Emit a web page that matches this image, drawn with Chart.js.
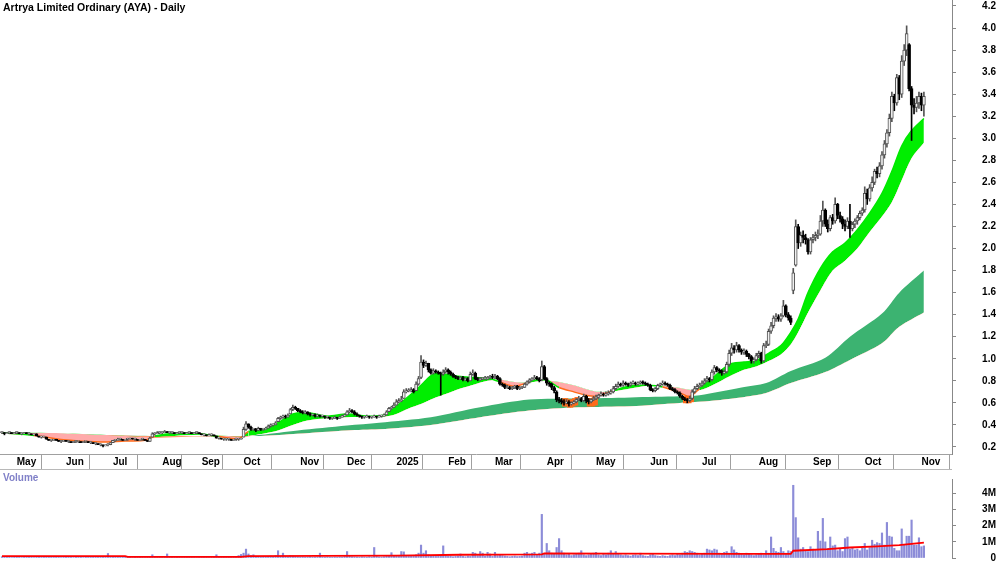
<!DOCTYPE html>
<html><head><meta charset="utf-8">
<script src="https://cdn.jsdelivr.net/npm/chart.js@4.4.1/dist/chart.umd.min.js"></script>
<style>
html,body{margin:0;padding:0;background:#fff;}
#wrap{position:relative;width:1000px;height:562px;overflow:hidden;background:#fff;}
#main{position:absolute;left:0;top:-10px;width:1000px;height:480px;}
#vol{position:absolute;left:0;top:470px;width:1000px;height:100px;}
#sep{position:absolute;left:0;top:469px;width:952px;height:1px;background:#b8b8b8;}
.t{position:absolute;font-family:'Liberation Sans',Arial,sans-serif;font-weight:bold;white-space:nowrap;}
</style></head>
<body><div id="wrap">
<div id="main"><canvas id="c1" width="1000" height="480"></canvas></div>
<div id="vol"><canvas id="c2" width="1000" height="100"></canvas></div>
<div id="sep"></div>
<div class="t" style="left:3px;top:1px;color:#000;font-size:10.5px;line-height:12px">Artrya Limited Ordinary (AYA) - Daily</div>
<div class="t" style="left:3px;top:472px;color:#8080c8;font-size:10px;line-height:12px">Volume</div>
</div>
<script>
// ---- price data (one entry per trading bar) ----
const C = [
0.33,0.32,0.33,0.33,0.32,0.33,0.33,0.32,0.32,0.33,
0.32,0.32,0.31,0.32,0.30,0.29,0.29,0.30,0.27,0.26,
0.26,0.27,0.26,0.25,0.25,0.26,0.25,0.25,0.24,0.25,
0.25,0.25,0.24,0.25,0.25,0.24,0.24,0.23,0.23,0.22,
0.22,0.21,0.22,0.22,0.24,0.26,0.26,0.27,0.27,0.26,
0.27,0.27,0.28,0.27,0.27,0.26,0.27,0.27,0.26,0.25,
0.28,0.32,0.32,0.33,0.33,0.33,0.34,0.33,0.33,0.33,
0.32,0.33,0.33,0.33,0.32,0.33,0.33,0.32,0.33,0.33,
0.32,0.31,0.31,0.30,0.31,0.31,0.30,0.28,0.28,0.27,
0.27,0.27,0.27,0.26,0.27,0.27,0.27,0.28,0.36,0.41,
0.38,0.36,0.36,0.35,0.37,0.36,0.36,0.37,0.39,0.40,
0.40,0.42,0.46,0.47,0.48,0.47,0.49,0.54,0.56,0.55,
0.53,0.52,0.51,0.52,0.50,0.49,0.49,0.48,0.49,0.48,
0.48,0.47,0.47,0.46,0.46,0.47,0.46,0.47,0.48,0.49,
0.52,0.53,0.52,0.50,0.49,0.48,0.47,0.47,0.48,0.47,
0.47,0.48,0.47,0.48,0.48,0.49,0.52,0.55,0.56,0.58,
0.61,0.62,0.63,0.70,0.71,0.71,0.72,0.70,0.77,0.82,
0.97,0.94,0.96,0.90,0.87,0.89,0.88,0.87,0.86,0.88,
0.90,0.88,0.86,0.84,0.83,0.82,0.83,0.81,0.82,0.80,
0.86,0.87,0.82,0.81,0.82,0.82,0.82,0.83,0.84,0.83,
0.84,0.82,0.77,0.76,0.74,0.74,0.73,0.74,0.75,0.73,
0.74,0.74,0.77,0.79,0.81,0.82,0.83,0.82,0.80,0.93,
0.82,0.78,0.77,0.74,0.71,0.63,0.62,0.61,0.60,0.61,
0.59,0.60,0.61,0.63,0.64,0.62,0.66,0.62,0.61,0.63,
0.64,0.65,0.67,0.68,0.67,0.68,0.69,0.70,0.73,0.75,
0.77,0.76,0.78,0.77,0.76,0.78,0.78,0.77,0.78,0.79,
0.78,0.77,0.76,0.72,0.71,0.73,0.76,0.77,0.78,0.77,
0.76,0.73,0.72,0.70,0.69,0.66,0.64,0.63,0.62,0.64,
0.70,0.73,0.75,0.76,0.78,0.80,0.82,0.81,0.88,0.92,
0.90,0.89,0.87,0.88,0.95,1.05,1.10,1.08,1.12,1.08,
1.06,1.07,1.04,1.02,0.98,0.99,1.03,1.05,0.98,1.12,
1.13,1.25,1.30,1.37,1.38,1.36,1.39,1.48,1.40,1.37,
1.33,1.78,2.20,2.05,2.12,2.10,2.08,1.97,2.08,2.10,
2.12,2.13,2.25,2.35,2.22,2.18,2.28,2.25,2.40,2.30,
2.27,2.22,2.20,2.25,2.18,2.22,2.25,2.28,2.32,2.35,
2.50,2.45,2.55,2.60,2.70,2.68,2.75,2.85,2.95,3.05,
3.18,3.38,3.32,3.55,3.40,3.70,3.80,3.95,3.45,3.30,
3.28,3.32,3.38,3.30,3.38];
const O = [
0.33,0.33,0.32,0.33,0.33,0.32,0.33,0.33,0.32,0.32,
0.33,0.32,0.32,0.31,0.32,0.30,0.29,0.29,0.29,0.27,
0.26,0.26,0.27,0.26,0.25,0.25,0.26,0.25,0.25,0.24,
0.25,0.25,0.25,0.24,0.25,0.25,0.24,0.24,0.23,0.23,
0.22,0.22,0.21,0.22,0.22,0.24,0.26,0.26,0.27,0.27,
0.26,0.27,0.27,0.28,0.27,0.27,0.26,0.27,0.27,0.26,
0.25,0.29,0.32,0.32,0.33,0.33,0.33,0.34,0.33,0.33,
0.33,0.32,0.33,0.33,0.33,0.32,0.33,0.33,0.32,0.33,
0.33,0.32,0.31,0.31,0.30,0.31,0.31,0.30,0.28,0.28,
0.27,0.27,0.27,0.27,0.26,0.27,0.27,0.27,0.29,0.36,
0.41,0.38,0.36,0.36,0.35,0.37,0.36,0.36,0.37,0.39,
0.40,0.40,0.43,0.46,0.47,0.48,0.47,0.50,0.54,0.56,
0.55,0.53,0.52,0.51,0.52,0.50,0.49,0.49,0.48,0.49,
0.48,0.48,0.47,0.47,0.46,0.46,0.47,0.46,0.47,0.48,
0.49,0.52,0.53,0.52,0.50,0.49,0.48,0.47,0.47,0.48,
0.47,0.47,0.48,0.47,0.48,0.48,0.49,0.52,0.55,0.56,
0.58,0.61,0.62,0.64,0.70,0.71,0.71,0.72,0.71,0.77,
0.83,0.97,0.94,0.96,0.90,0.87,0.89,0.88,0.87,0.86,
0.88,0.90,0.88,0.86,0.84,0.83,0.82,0.83,0.81,0.82,
0.80,0.86,0.87,0.82,0.81,0.82,0.82,0.82,0.83,0.84,
0.83,0.84,0.82,0.77,0.76,0.74,0.74,0.73,0.74,0.75,
0.73,0.74,0.74,0.77,0.79,0.81,0.82,0.83,0.82,0.81,
0.93,0.82,0.78,0.77,0.74,0.70,0.63,0.62,0.61,0.60,
0.61,0.59,0.60,0.61,0.63,0.64,0.62,0.66,0.62,0.61,
0.63,0.64,0.65,0.67,0.68,0.67,0.68,0.69,0.70,0.73,
0.75,0.77,0.76,0.78,0.77,0.76,0.78,0.78,0.77,0.78,
0.79,0.78,0.77,0.76,0.72,0.71,0.73,0.76,0.77,0.78,
0.77,0.76,0.73,0.72,0.70,0.69,0.66,0.64,0.63,0.62,
0.64,0.70,0.73,0.75,0.76,0.78,0.80,0.82,0.81,0.88,
0.92,0.90,0.89,0.87,0.88,0.95,1.05,1.10,1.08,1.12,
1.08,1.06,1.07,1.04,1.02,0.98,0.99,1.03,1.05,0.98,
1.12,1.13,1.25,1.30,1.37,1.38,1.36,1.39,1.48,1.40,
1.37,1.62,1.85,2.20,2.05,2.12,2.10,2.08,1.97,2.08,
2.10,2.12,2.13,2.25,2.35,2.22,2.18,2.28,2.25,2.40,
2.30,2.27,2.22,2.20,2.25,2.18,2.22,2.25,2.28,2.32,
2.35,2.50,2.45,2.55,2.60,2.70,2.68,2.75,2.85,2.95,
3.05,3.18,3.38,3.32,3.55,3.40,3.70,3.80,3.85,3.45,
3.30,3.28,3.32,3.38,3.30];
const H = [
0.34,0.33,0.33,0.34,0.33,0.33,0.34,0.33,0.33,0.33,
0.33,0.33,0.32,0.32,0.32,0.30,0.30,0.30,0.29,0.27,
0.27,0.27,0.27,0.26,0.26,0.26,0.26,0.26,0.25,0.25,
0.26,0.25,0.25,0.25,0.25,0.25,0.25,0.24,0.24,0.23,
0.23,0.22,0.22,0.23,0.24,0.26,0.27,0.28,0.28,0.27,
0.27,0.28,0.28,0.28,0.28,0.27,0.27,0.28,0.27,0.26,
0.29,0.33,0.33,0.34,0.34,0.34,0.35,0.34,0.34,0.34,
0.33,0.33,0.34,0.34,0.33,0.33,0.34,0.33,0.33,0.34,
0.33,0.32,0.32,0.31,0.32,0.32,0.31,0.30,0.29,0.28,
0.28,0.28,0.28,0.27,0.27,0.28,0.28,0.28,0.38,0.43,
0.41,0.39,0.37,0.37,0.38,0.37,0.37,0.38,0.40,0.41,
0.41,0.43,0.47,0.48,0.49,0.49,0.50,0.55,0.58,0.57,
0.55,0.54,0.53,0.53,0.52,0.51,0.50,0.50,0.50,0.49,
0.49,0.48,0.48,0.47,0.47,0.48,0.47,0.48,0.49,0.50,
0.53,0.55,0.54,0.53,0.51,0.49,0.48,0.48,0.49,0.48,
0.48,0.49,0.48,0.49,0.49,0.50,0.53,0.56,0.57,0.60,
0.63,0.64,0.66,0.72,0.73,0.73,0.74,0.73,0.79,0.84,
1.03,0.99,0.98,0.96,0.91,0.91,0.90,0.89,0.88,0.90,
0.92,0.91,0.89,0.87,0.85,0.84,0.84,0.84,0.83,0.83,
0.88,0.90,0.88,0.83,0.83,0.83,0.84,0.84,0.85,0.86,
0.86,0.85,0.83,0.78,0.77,0.76,0.75,0.75,0.76,0.76,
0.75,0.75,0.78,0.80,0.82,0.83,0.85,0.84,0.83,0.98,
0.94,0.83,0.79,0.78,0.75,0.71,0.65,0.64,0.63,0.63,
0.62,0.61,0.62,0.64,0.66,0.65,0.68,0.67,0.64,0.64,
0.66,0.67,0.68,0.70,0.69,0.70,0.71,0.72,0.75,0.77,
0.79,0.78,0.80,0.79,0.78,0.79,0.80,0.79,0.79,0.80,
0.80,0.79,0.78,0.77,0.73,0.74,0.77,0.78,0.80,0.79,
0.78,0.77,0.74,0.73,0.71,0.70,0.67,0.65,0.64,0.66,
0.72,0.75,0.77,0.78,0.80,0.82,0.84,0.83,0.90,0.94,
0.93,0.91,0.90,0.90,0.97,1.08,1.14,1.12,1.15,1.13,
1.09,1.09,1.08,1.05,1.03,1.01,1.05,1.07,1.06,1.14,
1.16,1.27,1.33,1.39,1.41,1.40,1.41,1.53,1.49,1.42,
1.39,1.82,2.26,2.22,2.15,2.16,2.13,2.09,2.10,2.13,
2.15,2.17,2.30,2.43,2.36,2.26,2.30,2.31,2.46,2.41,
2.33,2.29,2.26,2.28,2.40,2.24,2.27,2.30,2.34,2.37,
2.56,2.54,2.58,2.65,2.72,2.74,2.78,2.88,2.98,3.08,
3.22,3.42,3.40,3.58,3.57,3.75,3.85,4.02,3.86,3.47,
3.36,3.38,3.42,3.41,3.42];
const L = [
0.32,0.31,0.32,0.32,0.32,0.32,0.32,0.32,0.31,0.32,
0.32,0.31,0.31,0.31,0.30,0.29,0.28,0.29,0.27,0.26,
0.25,0.26,0.26,0.25,0.24,0.25,0.25,0.24,0.24,0.24,
0.24,0.24,0.24,0.24,0.24,0.24,0.23,0.23,0.22,0.22,
0.21,0.20,0.21,0.21,0.22,0.24,0.25,0.26,0.26,0.26,
0.26,0.26,0.27,0.27,0.26,0.26,0.26,0.26,0.26,0.25,
0.25,0.29,0.31,0.32,0.32,0.32,0.33,0.33,0.32,0.32,
0.32,0.32,0.32,0.32,0.32,0.32,0.32,0.32,0.32,0.32,
0.32,0.31,0.30,0.30,0.30,0.30,0.30,0.28,0.27,0.27,
0.26,0.26,0.26,0.26,0.26,0.26,0.26,0.27,0.29,0.35,
0.37,0.35,0.35,0.34,0.35,0.35,0.35,0.36,0.37,0.38,
0.39,0.40,0.43,0.45,0.46,0.46,0.47,0.50,0.53,0.54,
0.52,0.51,0.50,0.50,0.49,0.48,0.48,0.47,0.47,0.47,
0.47,0.46,0.46,0.45,0.45,0.46,0.45,0.46,0.47,0.48,
0.49,0.51,0.51,0.49,0.48,0.47,0.46,0.46,0.47,0.46,
0.46,0.47,0.46,0.47,0.47,0.48,0.49,0.52,0.54,0.56,
0.58,0.60,0.61,0.64,0.69,0.70,0.70,0.69,0.71,0.76,
0.82,0.92,0.93,0.88,0.86,0.86,0.87,0.86,0.67,0.85,
0.87,0.86,0.85,0.83,0.82,0.81,0.81,0.80,0.80,0.79,
0.80,0.85,0.81,0.80,0.80,0.81,0.81,0.81,0.82,0.82,
0.82,0.81,0.76,0.75,0.73,0.73,0.72,0.72,0.73,0.72,
0.72,0.73,0.74,0.76,0.78,0.80,0.81,0.81,0.79,0.80,
0.81,0.76,0.75,0.72,0.69,0.61,0.60,0.59,0.58,0.59,
0.57,0.58,0.59,0.60,0.62,0.61,0.61,0.60,0.59,0.60,
0.62,0.63,0.64,0.66,0.66,0.66,0.67,0.68,0.69,0.72,
0.74,0.75,0.75,0.76,0.75,0.75,0.77,0.76,0.76,0.77,
0.77,0.76,0.75,0.71,0.70,0.70,0.72,0.75,0.76,0.76,
0.75,0.72,0.71,0.69,0.68,0.65,0.63,0.62,0.60,0.61,
0.63,0.69,0.72,0.74,0.75,0.77,0.79,0.79,0.80,0.86,
0.88,0.87,0.85,0.86,0.87,0.93,1.03,1.05,1.06,1.06,
1.04,1.04,1.02,1.00,0.96,0.96,0.98,1.01,0.96,0.97,
1.10,1.12,1.23,1.28,1.34,1.34,1.34,1.38,1.38,1.35,
1.31,1.59,1.84,2.00,2.02,2.05,2.04,1.95,1.95,2.05,
2.07,2.09,2.12,2.20,2.20,2.15,2.16,2.22,2.23,2.27,
2.24,2.18,2.16,2.18,2.10,2.16,2.19,2.22,2.26,2.30,
2.33,2.40,2.43,2.52,2.58,2.64,2.65,2.72,2.82,2.92,
3.02,3.15,3.25,3.30,3.35,3.37,3.66,3.75,3.43,2.98,
3.22,3.24,3.27,3.25,3.20];
// volume in millions of shares, one per bar
const V = [
0.08,0.05,0.04,0.06,0.03,0.05,0.07,0.04,0.03,0.05,
0.04,0.06,0.05,0.03,0.08,0.06,0.04,0.05,0.09,0.07,
0.05,0.04,0.06,0.05,0.03,0.04,0.06,0.05,0.04,0.03,
0.05,0.04,0.06,0.03,0.05,0.04,0.07,0.06,0.05,0.08,
0.06,0.09,0.05,0.28,0.07,0.10,0.06,0.05,0.04,0.06,
0.05,0.04,0.06,0.03,0.05,0.04,0.06,0.05,0.03,0.06,
0.09,0.20,0.10,0.07,0.06,0.05,0.08,0.25,0.06,0.05,
0.04,0.06,0.05,0.03,0.05,0.04,0.06,0.05,0.04,0.03,
0.05,0.06,0.04,0.05,0.03,0.06,0.05,0.20,0.06,0.04,
0.05,0.04,0.06,0.08,0.05,0.06,0.15,0.22,0.30,0.55,
0.25,0.15,0.20,0.10,0.08,0.06,0.09,0.07,0.10,0.12,
0.09,0.15,0.45,0.12,0.30,0.10,0.08,0.15,0.12,0.09,
0.08,0.06,0.07,0.05,0.06,0.08,0.05,0.06,0.07,0.30,
0.06,0.05,0.07,0.05,0.04,0.06,0.05,0.07,0.06,0.10,
0.40,0.15,0.08,0.07,0.06,0.05,0.07,0.06,0.05,0.08,
0.06,0.65,0.10,0.07,0.06,0.08,0.12,0.15,0.33,0.12,
0.15,0.10,0.40,0.38,0.12,0.10,0.15,0.12,0.20,0.30,
0.80,0.30,0.45,0.20,0.15,0.12,0.10,0.15,0.20,0.75,
0.15,0.10,0.12,0.08,0.10,0.12,0.25,0.10,0.08,0.12,
0.10,0.35,0.30,0.15,0.40,0.30,0.12,0.35,0.25,0.10,
0.35,0.15,0.20,0.15,0.12,0.10,0.08,0.10,0.12,0.09,
0.10,0.12,0.30,0.35,0.25,0.30,0.35,0.20,0.30,2.70,
0.25,0.90,0.45,0.30,0.25,0.65,1.20,0.45,0.30,0.20,
0.25,0.15,0.20,0.25,0.30,0.45,0.20,0.15,0.20,0.25,
0.30,0.35,0.20,0.15,0.25,0.20,0.30,0.45,0.25,0.40,
0.25,0.20,0.15,0.20,0.15,0.12,0.18,0.20,0.15,0.30,
0.15,0.12,0.10,0.20,0.25,0.15,0.12,0.10,0.15,0.12,
0.10,0.15,0.20,0.15,0.25,0.20,0.30,0.40,0.35,0.45,
0.40,0.35,0.30,0.20,0.25,0.30,0.55,0.50,0.45,0.55,
0.50,0.30,0.25,0.35,0.40,0.30,0.70,0.50,0.35,0.30,
0.25,0.20,0.30,0.25,0.20,0.15,0.20,0.25,0.30,0.20,
0.45,0.30,1.30,0.60,0.40,0.35,0.65,0.40,0.30,0.45,
0.40,4.50,2.50,1.25,0.55,0.65,0.45,0.40,0.70,0.55,
0.50,1.65,1.05,2.45,1.00,0.60,1.30,0.75,0.80,0.45,
0.60,0.40,1.20,1.30,0.55,0.60,0.50,0.55,0.45,0.60,
0.90,0.50,0.65,1.10,0.85,0.95,0.90,1.55,0.80,2.20,
1.35,1.30,0.60,0.45,0.45,1.80,0.85,1.35,1.35,2.35,
0.80,0.80,1.25,0.70,0.75];
// volume moving average (read at selected bars)
const vmaIdx = [0,50,51,97,100,160,186,219,220,250,300,320,321,335,344,355,364,374];
const vmaVal = [0.12,0.12,0.07,0.07,0.12,0.15,0.20,0.22,0.28,0.27,0.26,0.25,0.45,0.55,0.65,0.72,0.80,0.95];
// short-term ribbon (fast / slow average), read at selected bars
const srIdx  = [0,13,25,40,50,58,62,70,80,88,96,100,106,112,118,124,132,140,148,155,160,165,170,175,180,186,192,197,202,208,214,220,226,232,238,242,248,255,262,268,274,279,283,289,295,301,306,311,316,320,323,327,332,337,342,347,352,357,361,365,369,374];
const srFast = [0.33,0.305,0.265,0.245,0.255,0.26,0.30,0.325,0.32,0.295,0.275,0.34,0.36,0.42,0.50,0.51,0.48,0.50,0.48,0.49,0.57,0.66,0.76,0.86,0.86,0.84,0.83,0.825,0.79,0.75,0.79,0.815,0.74,0.70,0.665,0.665,0.71,0.755,0.76,0.745,0.70,0.66,0.73,0.84,0.95,0.97,0.985,1.05,1.12,1.24,1.36,1.60,1.82,1.97,2.05,2.17,2.32,2.50,2.70,2.93,3.07,3.18];
const srSlow = [0.33,0.33,0.325,0.31,0.30,0.29,0.29,0.30,0.31,0.305,0.295,0.30,0.32,0.35,0.40,0.44,0.46,0.47,0.475,0.475,0.50,0.55,0.59,0.64,0.68,0.73,0.77,0.80,0.81,0.79,0.785,0.80,0.79,0.76,0.72,0.70,0.705,0.73,0.755,0.755,0.74,0.72,0.715,0.77,0.84,0.90,0.93,0.98,1.04,1.13,1.24,1.42,1.62,1.80,1.89,2.00,2.15,2.29,2.42,2.62,2.82,2.96];
// long-term ribbon (fast / slow average), read at selected bars
const lrIdx  = [0,20,40,60,80,97,105,120,140,153,174,194,214,234,255,275,283,300,310,320,334,344,357,364,374];
const lrFast = [0.32,0.30,0.28,0.28,0.295,0.29,0.31,0.35,0.395,0.42,0.47,0.56,0.63,0.64,0.65,0.66,0.67,0.74,0.78,0.89,1.01,1.20,1.41,1.60,1.80];
const lrSlow = [0.33,0.32,0.31,0.30,0.30,0.30,0.30,0.32,0.35,0.36,0.40,0.47,0.53,0.56,0.57,0.60,0.61,0.65,0.69,0.78,0.88,0.99,1.14,1.29,1.42];
// orange highlight blocks
const blkIdx = [228,229,230,231,232,233,238,239,240,241,277,278,279,280];
const blkLo  = [0.57,0.57,0.56,0.56,0.57,0.58,0.57,0.57,0.57,0.58,0.60,0.60,0.60,0.61];
const blkHi  = [0.64,0.64,0.63,0.63,0.64,0.65,0.64,0.64,0.65,0.65,0.66,0.66,0.66,0.67];
// axes
const monthLabels = ['May','Jun','Jul','Aug','Sep','Oct','Nov','Dec','2025','Feb','Mar','Apr','May','Jun','Jul','Aug','Sep','Oct','Nov'];
const monthIdx    = [6,26,45,65,81,98,121,140,160,181,200,221,241,263,284,307,329,350,373];
const priceTicks = [0.2,0.4,0.6,0.8,1.0,1.2,1.4,1.6,1.8,2.0,2.2,2.4,2.6,2.8,3.0,3.2,3.4,3.6,3.8,4.0,4.2];
const volTicks = [0,1,2,3,4];
const volTickLabels = ['0','1M','2M','3M','4M'];

const FONT = "'Liberation Sans',Arial,sans-serif";
const X_MIN = -0.8, X_MAX = 385.4;
const pts = (xs, ys) => xs.map((x, k) => ({x: x, y: ys[k]}));
const up = i => C[i] >= O[i];

const bodies = C.map((c, i) => ({x: i, y: [O[i], c]}));
const wicks = C.map((c, i) => ({x: i, y: [L[i], H[i]]}));
const blocks = blkIdx.map((x, k) => ({x: x, y: [blkLo[k], blkHi[k]]}));

const tickFont = {family: FONT, size: 10, weight: 'bold'};
const hidden = 'rgba(0,0,0,0)';

new Chart(document.getElementById('c1'), {
  type: 'bar',
  data: {datasets: [
    {type: 'line', data: pts(lrIdx, lrSlow), borderColor: hidden, borderWidth: 0, pointRadius: 0, tension: 0.3, fill: false, order: 10},
    {type: 'line', data: pts(lrIdx, lrFast), borderColor: hidden, borderWidth: 0, pointRadius: 0, tension: 0.3,
      fill: {target: 0, above: '#3cb371', below: '#ff9a70'}, order: 10},
    {type: 'line', data: pts(srIdx, srSlow), borderColor: hidden, borderWidth: 0, pointRadius: 0, tension: 0.3, fill: false, order: 9},
    {type: 'line', data: pts(srIdx, srFast), borderWidth: 1.5, pointRadius: 0, tension: 0.3,
      borderColor: '#00e000',
      segment: {borderColor: ctx => (srFast[ctx.p0DataIndex] < srSlow[ctx.p0DataIndex] ? '#ff6a1a' : '#00e800')},
      fill: {target: 2, above: '#00ee00', below: '#ffaaaa'}, order: 9},
    {type: 'bar', data: blocks, backgroundColor: '#ff6a1a', barThickness: 3, grouped: false, order: 8},
    {type: 'bar', data: wicks, grouped: false, barThickness: 1, order: 2,
      backgroundColor: ctx => (ctx.dataIndex === undefined || up(ctx.dataIndex)) ? '#555555' : '#000000'},
    {type: 'bar', data: bodies, grouped: false, barThickness: 3, minBarLength: 1, order: 1,
      borderWidth: 1, borderSkipped: false,
      backgroundColor: ctx => (ctx.dataIndex === undefined || up(ctx.dataIndex)) ? '#f0f0f0' : '#000000',
      borderColor: ctx => (ctx.dataIndex === undefined || up(ctx.dataIndex)) ? '#505050' : '#000000'}
  ]},
  options: {
    responsive: false, animation: false, events: [],
    layout: {padding: {left: 0, right: 4, top: 10, bottom: 0}},
    plugins: {legend: {display: false}, tooltip: {enabled: false}, title: {display: false}},
    scales: {
      x: {type: 'linear', min: X_MIN, max: X_MAX, offset: false,
        afterBuildTicks: s => { s.ticks = monthIdx.map(v => ({value: v})); },
        afterFit: s => { s.height = 16; },
        ticks: {autoSkip: false, maxRotation: 0, minRotation: 0, align: 'start', padding: -13,
          font: tickFont, color: '#000', callback: (v, i) => monthLabels[i]},
        grid: {drawOnChartArea: false, drawTicks: true, tickLength: 15, color: '#a0a0a0'},
        border: {display: true, color: '#a0a0a0'}},
      y: {type: 'linear', position: 'right', min: 0.1365, max: 4.2544,
        afterBuildTicks: s => { s.ticks = priceTicks.map(v => ({value: v})); },
        afterFit: s => { s.width = 44; },
        ticks: {font: tickFont, color: '#000', crossAlign: 'far', padding: 3, callback: v => Number(v).toFixed(1)},
        grid: {drawOnChartArea: false, drawTicks: true, tickLength: 4, color: '#888'},
        border: {display: true, color: '#888'}}
    }
  }
});

new Chart(document.getElementById('c2'), {
  type: 'bar',
  data: {datasets: [
    {type: 'line', data: pts(vmaIdx, vmaVal), borderColor: '#ff0000', borderWidth: 1.8, pointRadius: 0, tension: 0, fill: false, order: 1},
    {type: 'bar', data: V.map((v, i) => ({x: i, y: v})), backgroundColor: '#8c8cd8', barThickness: 1.5, grouped: false, order: 2}
  ]},
  options: {
    responsive: false, animation: false, events: [],
    layout: {padding: {left: 0, right: 4, top: 0, bottom: 12}},
    plugins: {legend: {display: false}, tooltip: {enabled: false}},
    scales: {
      x: {type: 'linear', min: X_MIN, max: X_MAX, offset: false, display: false},
      y: {type: 'linear', position: 'right', min: 0, max: 4.889,
        afterBuildTicks: s => { s.ticks = volTicks.map(v => ({value: v})); },
        afterFit: s => { s.width = 44; },
        ticks: {font: tickFont, color: '#000', crossAlign: 'far', padding: 3, callback: (v, i) => volTickLabels[i]},
        grid: {drawOnChartArea: false, drawTicks: true, tickLength: 4, color: '#888'},
        border: {display: true, color: '#888'}}
    }
  }
});
</script>
</body></html>
